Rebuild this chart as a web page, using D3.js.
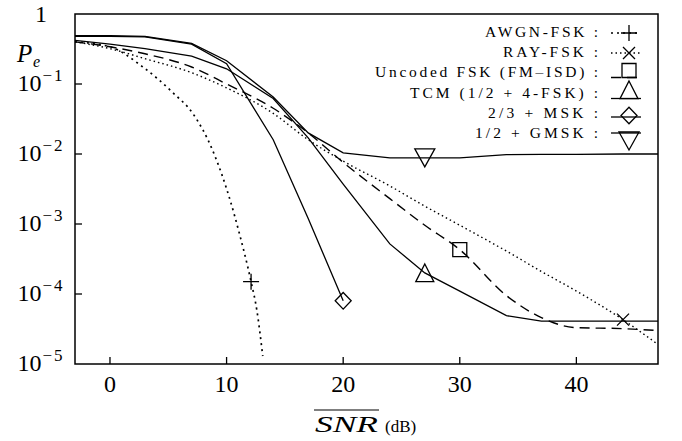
<!DOCTYPE html>
<html>
<head>
<meta charset="utf-8">
<script src="https://cdn.jsdelivr.net/npm/d3@7"></script>
<style>
  body { margin: 0; background: #fff; }
  svg { display: block; font-family: "Liberation Serif", "DejaVu Serif", serif; }
</style>
</head>
<body>
<div id="chart"></div>
<script>
// SNR grid of the simulated curves (dB)
const snr = [-3, 0, 3, 7, 10, 14, 17, 20, 24, 27, 30, 34, 37, 40, 44, 47];
const awgnSnr = [-3, 0, 2.8, 5.4, 7.1, 8.8, 10.3, 11.1, 12.1, 12.6, 13.1];

// error probabilities
const awgnFsk = [0.40, 0.34, 0.176, 0.075, 0.038, 0.0113, 0.0022, 7.3e-4, 1.5e-4, 5.8e-5, 1.3e-5];
const rayFsk = [0.40, 0.32, 0.23, 0.145, 0.088, 0.038, 0.016, 0.0079, 0.0035, 0.0018, 9.6e-4, 4.1e-4, 2.1e-4, 1.1e-4, 4.3e-5, 1.9e-5];
const uncodedFsk = [0.40, 0.34, 0.27, 0.175, 0.10, 0.045, 0.02, 0.0076, 0.0023, 9.6e-4, 4.3e-4, 9.5e-5, 4.6e-5, 3.3e-5, 3.2e-5, 3.0e-5];
const tcm = [0.42, 0.37, 0.32, 0.25, 0.165, 0.062, 0.017, 0.0037, 5.2e-4, 2.0e-4, 1.1e-4, 4.9e-5, 4.1e-5, 4.1e-5, 4.1e-5, 4.1e-5];
const msk = [0.48, 0.48, 0.47, 0.37, 0.195, 0.016, 0.0012, 8e-5];
const gmsk = [0.49, 0.49, 0.48, 0.38, 0.215, 0.065, 0.02, 0.0104, 0.0088, 0.0088, 0.0088, 0.0098, 0.0099, 0.0099, 0.0100, 0.0100];

// where each curve carries its single marker
const markerSnr = [12.1, 44, 30, 27, 20, 27];

const legendNames = ["AWGN-FSK :", "RAY-FSK :", "Uncoded FSK (FM\u2013ISD) :", "TCM (1/2 + 4-FSK) :", "2/3 + MSK :", "1/2 + GMSK :"];

const xTicks = [0, 10, 20, 30, 40];
const yTicks = [1e-5, 1e-4, 1e-3, 1e-2, 1e-1, 1];
const yTickExp = ["\u22125", "\u22124", "\u22123", "\u22122", "\u22121", ""];

document.addEventListener('DOMContentLoaded', function() {
    const width = 682, height = 441;
    const plot = { left: 75, right: 658, top: 14, bottom: 364 };

    const svg = d3.select("#chart").append("svg")
        .attr("width", width)
        .attr("height", height);

    const x = d3.scaleLinear().domain([-3, 47]).range([plot.left, plot.right]);
    const y = d3.scaleLog().domain([1e-5, 1]).range([plot.bottom, plot.top]);

    svg.append("clipPath").attr("id", "clip")
        .append("rect")
        .attr("x", plot.left).attr("y", plot.top)
        .attr("width", plot.right - plot.left)
        .attr("height", plot.bottom - plot.top);

    const zip = (xs, ys) => ys.map((v, i) => ({ x: xs[i], y: v }));

    const series = [
        { pts: zip(awgnSnr, awgnFsk), dash: "2,4", width: 1.7, curve: d3.curveMonotoneX, marker: "plus" },
        { pts: zip(snr, rayFsk), dash: "1.5,3", width: 1.4, curve: d3.curveMonotoneX, marker: "cross" },
        { pts: zip(snr, uncodedFsk), dash: "10,6", width: 1.4, curve: d3.curveMonotoneX, marker: "square" },
        { pts: zip(snr, tcm), dash: null, width: 1.3, curve: d3.curveLinear, marker: "tri" },
        { pts: zip(snr, msk), dash: null, width: 1.3, curve: d3.curveLinear, marker: "diamond" },
        { pts: zip(snr, gmsk), dash: null, width: 1.3, curve: d3.curveLinear, marker: "tridown" }
    ];

    const markerPath = {
        plus: "M-8,0H8M0,-8V8",
        cross: "M-6,-6L6,6M-6,6L6,-6",
        square: "M-7,-7H7V7H-7Z",
        tri: "M0,-9L9,8.7L-9,8.7Z",
        diamond: "M0,-8.3L8,0L0,8.3L-8,0Z",
        tridown: "M-10,-9L10,-9L0,9Z"
    };

    const g = svg.append("g").attr("clip-path", "url(#clip)");

    series.forEach((s, i) => {
        const line = d3.line().curve(s.curve).x(d => x(d.x)).y(d => y(d.y));
        g.append("path")
            .datum(s.pts)
            .attr("d", line)
            .attr("fill", "none")
            .attr("stroke", "#000")
            .attr("stroke-width", s.width)
            .attr("stroke-dasharray", s.dash);

        const m = s.pts.find(p => p.x === markerSnr[i]);
        svg.append("path")
            .attr("d", markerPath[s.marker])
            .attr("transform", `translate(${x(m.x)},${y(m.y)})`)
            .attr("fill", "none")
            .attr("stroke", "#000")
            .attr("stroke-width", 1.3);
    });

    // frame
    svg.append("rect")
        .attr("x", plot.left).attr("y", plot.top)
        .attr("width", plot.right - plot.left)
        .attr("height", plot.bottom - plot.top)
        .attr("fill", "none")
        .attr("stroke", "#000")
        .attr("stroke-width", 1.5);

    // x axis: inward ticks
    svg.selectAll(".xtick").data(xTicks).enter().append("line")
        .attr("x1", d => x(d)).attr("x2", d => x(d))
        .attr("y1", plot.bottom).attr("y2", plot.bottom - 7)
        .attr("stroke", "#000").attr("stroke-width", 1.3);
    svg.selectAll(".xlab").data(xTicks).enter().append("text")
        .attr("x", d => x(d)).attr("y", 392)
        .attr("text-anchor", "middle")
        .attr("font-size", 24)
        .text(d => d);

    // y axis: inward ticks, labels as powers of ten
    svg.selectAll(".ytick").data(yTicks.slice(1, 5)).enter().append("line")
        .attr("x1", plot.left).attr("x2", plot.left + 7)
        .attr("y1", d => y(d)).attr("y2", d => y(d))
        .attr("stroke", "#000").attr("stroke-width", 1.3);
    yTicks.forEach((t, i) => {
        const txt = svg.append("text")
            .attr("x", 41)
            .attr("y", t === 1 ? 22 : y(t) + 7)
            .attr("text-anchor", "middle")
            .attr("font-size", 24);
        if (t === 1) { txt.text("1"); return; }
        txt.append("tspan").text("10");
        txt.append("tspan").attr("dy", -10).attr("font-size", 17).attr("dx", 1)
            .attr("letter-spacing", 2).text(yTickExp[i]);
    });

    // axis titles
    svg.append("text").attr("x", 17).attr("y", 62)
        .attr("font-size", 25).attr("font-style", "italic").text("P");
    svg.append("text").attr("x", 33).attr("y", 67)
        .attr("font-size", 16).attr("font-style", "italic").text("e");

    svg.append("text").attr("x", 315).attr("y", 432)
        .attr("font-size", 24).attr("font-style", "italic")
        .attr("textLength", 63).attr("lengthAdjust", "spacingAndGlyphs")
        .text("SNR");
    svg.append("line").attr("x1", 314).attr("x2", 379).attr("y1", 410).attr("y2", 410)
        .attr("stroke", "#000").attr("stroke-width", 1.2);
    svg.append("text").attr("x", 385).attr("y", 432)
        .attr("font-size", 17)
        .text("(dB)");

    // legend
    const legStart = [485, 503, 375, 410, 488, 475];
    const legBase = [37, 57, 77, 98, 118, 138];
    const legLineY = [33, 53, 77.5, 98.5, 117, 133];
    const legMarkY = [33, 53, 70.5, 90, 115.5, 141];
    legendNames.forEach((name, i) => {
        svg.append("text")
            .attr("x", legStart[i]).attr("y", legBase[i])
            .attr("font-size", 15.5)
            .attr("textLength", 598 - legStart[i])
            .attr("lengthAdjust", "spacing")
            .text(name);
        svg.append("line")
            .attr("x1", 611).attr("x2", 641)
            .attr("y1", legLineY[i]).attr("y2", legLineY[i])
            .attr("stroke", "#000")
            .attr("stroke-width", series[i].width)
            .attr("stroke-dasharray", series[i].dash);
        svg.append("path")
            .attr("d", markerPath[series[i].marker])
            .attr("transform", `translate(629,${legMarkY[i]})`)
            .attr("fill", "none")
            .attr("stroke", "#000")
            .attr("stroke-width", 1.3);
    });
});
</script>
</body>
</html>
